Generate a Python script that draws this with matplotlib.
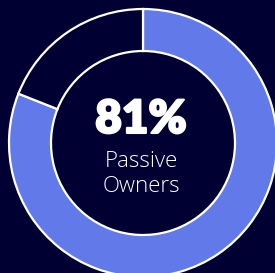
import matplotlib
matplotlib.use("Agg")
import matplotlib.pyplot as plt
import matplotlib.patheffects as pe

labels = ["Passive Owners", "Other"]
values = [81, 19]
colors = ["#6279EA", "#000033"]
big_label = "81%"
sub_label = "Passive\nOwners"

BG = "#000033"
W, H = 275, 273
fig = plt.figure(figsize=(W / 100, H / 100), dpi=100, facecolor=BG)
ax = fig.add_axes([0, 0, 1, 1])
ax.set_facecolor(BG)

cx, cy = 143, H - 143
R, r = 134, 92
ax.pie(values, colors=colors, startangle=90, counterclock=False,
       center=(cx, cy), radius=R, frame=True,
       wedgeprops=dict(width=R - r, edgecolor="white", linewidth=1.6))
ax.set_xlim(0, W)
ax.set_ylim(0, H)
ax.set_aspect("equal")
ax.axis("off")

ax.text(141, H - 133, big_label, ha="center", va="baseline", color="white",
        fontsize=33, fontweight="heavy", family="Lato",
        path_effects=[pe.withStroke(linewidth=1.5, foreground="white")])
ax.text(141, H - 167, "Passive", ha="center", va="baseline", color="white",
        fontsize=16, family="Open Sans", fontweight="light")
ax.text(141, H - 192, "Owners", ha="center", va="baseline", color="white",
        fontsize=16, family="Open Sans", fontweight="light")

fig.savefig("out.png", dpi=100, facecolor=BG)
